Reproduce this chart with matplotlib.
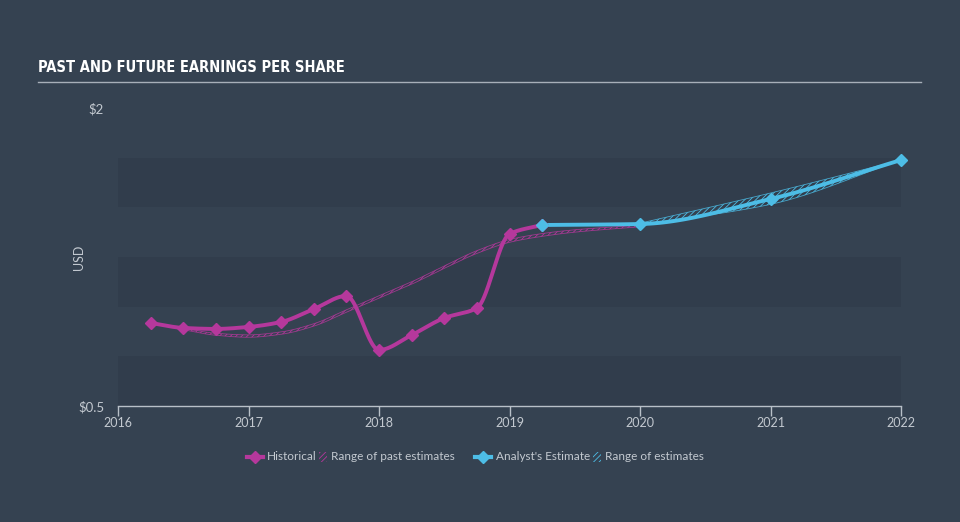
import numpy as np
import matplotlib
matplotlib.use("Agg")
import matplotlib.pyplot as plt
from matplotlib.patches import Rectangle
from matplotlib.lines import Line2D

# ---------------- data ----------------
hist_dates = [2016.25, 2016.5, 2016.75, 2017.0, 2017.25, 2017.5, 2017.75,
              2018.0, 2018.25, 2018.5, 2018.75, 2019.0, 2019.25]
hist_eps = [0.918, 0.893, 0.888, 0.898, 0.923, 0.988, 1.054,
            0.782, 0.857, 0.943, 0.993, 1.366, 1.411]

past_dates = [2016.5, 2016.75, 2017.0, 2017.25, 2017.5, 2017.75, 2018.0,
              2018.25, 2018.5, 2018.75, 2019.0, 2019.25, 2019.5, 2020.0]
past_low = [0.884, 0.856, 0.846, 0.861, 0.902, 0.972, 1.043,
            1.113, 1.193, 1.268, 1.324, 1.354, 1.375, 1.402]
past_high = [0.892, 0.866, 0.858, 0.873, 0.914, 0.984, 1.055,
             1.125, 1.205, 1.282, 1.338, 1.368, 1.387, 1.410]

est_dates = [2019.25, 2020.0, 2021.0, 2022.0]
est_eps = [1.411, 1.416, 1.542, 1.738]

est_range_dates = [2020.0, 2021.0, 2022.0]
est_low = [1.412, 1.515, 1.738]
est_high = [1.420, 1.572, 1.738]

year_ticks = [2016, 2017, 2018, 2019, 2020, 2021, 2022]
y_ticks = [0.5, 2.0]
y_tick_labels = ["$0.5", "$2"]
band_edges = [(0.5, 0.75), (1.0, 1.25), (1.5, 1.75)]

# ---------------- style ----------------
BG = "#354251"
BAND = "#313d4c"
MAG = "#b5389c"
BLUE = "#4dbde6"
TXT = "#c3c9d0"

plt.rcParams["hatch.linewidth"] = 0.6


def monotone(x, y, n=40):
    x = np.asarray(x, float)
    y = np.asarray(y, float)
    h = np.diff(x)
    d = np.diff(y) / h
    m = np.zeros_like(y)
    m[0], m[-1] = d[0], d[-1]
    for i in range(1, len(y) - 1):
        if d[i - 1] * d[i] <= 0:
            m[i] = 0
        else:
            w1 = 2 * h[i] + h[i - 1]
            w2 = h[i] + 2 * h[i - 1]
            m[i] = (w1 + w2) / (w1 / d[i - 1] + w2 / d[i])
    xs, ys = [], []
    for i in range(len(x) - 1):
        t = np.linspace(0, 1, n, endpoint=(i == len(x) - 2))
        h00 = 2 * t**3 - 3 * t**2 + 1
        h10 = t**3 - 2 * t**2 + t
        h01 = -2 * t**3 + 3 * t**2
        h11 = t**3 - t**2
        xs.append(x[i] + t * h[i])
        ys.append(h00 * y[i] + h10 * h[i] * m[i] + h01 * y[i + 1] + h11 * h[i] * m[i + 1])
    return np.concatenate(xs), np.concatenate(ys)


fig = plt.figure(figsize=(9.6, 5.22), dpi=100, facecolor=BG)
ax = fig.add_axes([118 / 960, 1 - 406 / 522, 783 / 960, 298 / 522])
ax.set_facecolor("none")
ax.set_xlim(2016, 2022)
ax.set_ylim(0.5, 2.0)

for lo, hi in band_edges:
    ax.axhspan(lo, hi, color=BAND, lw=0, zorder=0)

# past estimates range
px, pl = monotone(past_dates, past_low)
_, ph = monotone(past_dates, past_high)
ax.fill_between(px, pl, ph, facecolor="none", edgecolor=MAG, hatch="//////", lw=0, zorder=2)
ax.plot(px, pl, color=MAG, lw=0.6, alpha=0.8, zorder=2)
ax.plot(px, ph, color=MAG, lw=0.6, alpha=0.8, zorder=2)

# estimate range
ex, el = monotone(est_range_dates, est_low)
_, eh = monotone(est_range_dates, est_high)
ax.fill_between(ex, el, eh, facecolor="none", edgecolor=BLUE, hatch="//////", lw=0, zorder=2)
ax.plot(ex, el, color=BLUE, lw=0.6, alpha=0.8, zorder=2)
ax.plot(ex, eh, color=BLUE, lw=0.6, alpha=0.8, zorder=2)

# historical
hx, hy = monotone(hist_dates, hist_eps)
ax.plot(hx, hy, color=MAG, lw=2.8, solid_capstyle="round", zorder=4)
ax.plot(hist_dates, hist_eps, ls="none", marker="D", ms=6, color=MAG, zorder=5)

# analyst estimate
fx, fy = monotone(est_dates, est_eps)
ax.plot(fx, fy, color=BLUE, lw=2.8, solid_capstyle="round", zorder=4)
ax.plot(est_dates, est_eps, ls="none", marker="D", ms=6, color=BLUE, zorder=6, clip_on=False)

for s in ["top", "right", "left"]:
    ax.spines[s].set_visible(False)
ax.spines["bottom"].set_color("#b8c0c8")
ax.spines["bottom"].set_linewidth(1)
ax.set_xticks(year_ticks)
ax.set_xticklabels([str(y) for y in year_ticks])
ax.tick_params(axis="x", colors="#b8c0c8", length=7, width=1, labelcolor=TXT,
               labelsize=9, pad=1)
ax.set_yticks(y_ticks)
ax.set_yticklabels(y_tick_labels)
ax.tick_params(axis="y", length=0, labelcolor=TXT, labelsize=9.5, pad=10)
ax.set_ylabel("USD", color=TXT, fontsize=9)
ax.yaxis.set_label_coords(-0.042, 0.5)
for lab in ax.get_xticklabels() + ax.get_yticklabels():
    lab.set_family(["Lato", "DejaVu Sans"])
ax.yaxis.label.set_family(["Lato", "DejaVu Sans"])

# overlay for title and legend
ov = fig.add_axes([0, 0, 1, 1], facecolor="none")
ov.set_xlim(0, 960)
ov.set_ylim(522, 0)
ov.axis("off")

ov.text(38, 68, "PAST AND FUTURE EARNINGS PER SHARE", color="white", fontsize=10.5,
        fontweight="bold", fontstretch="condensed", family=["DejaVu Sans"],
        va="center", ha="left")
ov.plot([38, 921], [82, 82], color="#a7afb9", lw=1)

lf = dict(color=TXT, fontsize=8.5, family=["Lato", "DejaVu Sans"], va="center", ha="left")
ly = 457
ov.add_line(Line2D([247, 263], [ly, ly], color=MAG, lw=3))
ov.add_line(Line2D([255], [ly], color=MAG, marker="D", ms=6))
ov.text(267, ly, "Historical", **lf)
ov.add_patch(Rectangle((319, ly - 5), 8, 10, facecolor="none", edgecolor=MAG, hatch="//////", lw=0))
ov.text(331, ly, "Range of past estimates", **lf)
ov.add_line(Line2D([475, 491], [ly, ly], color=BLUE, lw=3))
ov.add_line(Line2D([483], [ly], color=BLUE, marker="D", ms=6))
ov.text(496, ly, "Analyst's Estimate", **lf)
ov.add_patch(Rectangle((593, ly - 5), 8, 10, facecolor="none", edgecolor=BLUE, hatch="//////", lw=0))
ov.text(605, ly, "Range of estimates", **lf)

fig.savefig("out.png", dpi=100, facecolor=BG)
